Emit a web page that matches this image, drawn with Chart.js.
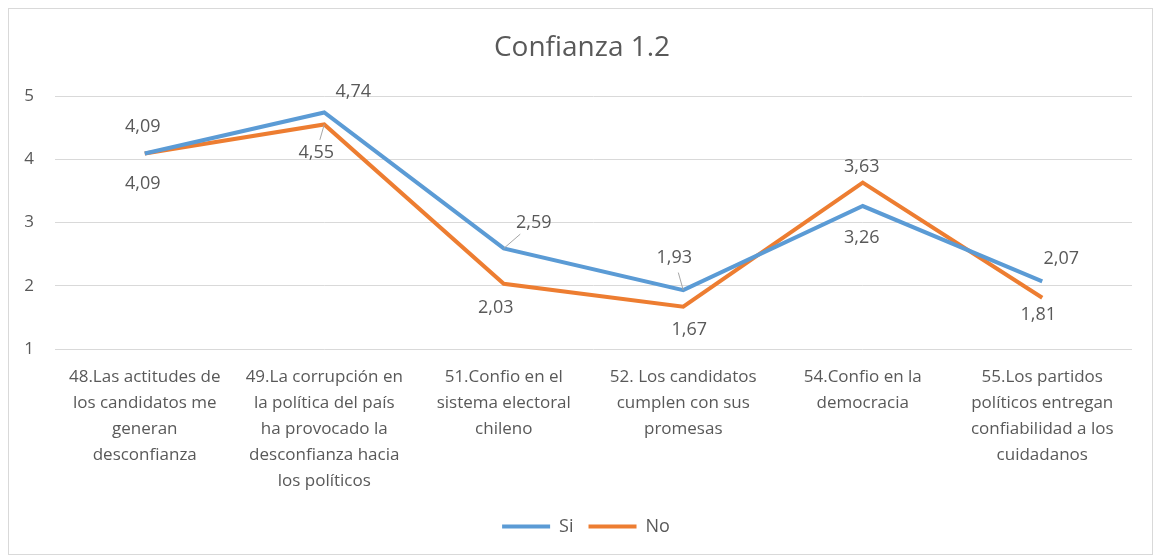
<!DOCTYPE html>
<html>
<head>
<meta charset="utf-8">
<script src="https://cdn.jsdelivr.net/npm/chart.js@4/dist/chart.umd.min.js"></script>
<style>
  body { margin: 0; background: #fff; }
  #wrap { width: 1156px; height: 558px; position: relative; }
</style>
</head>
<body>
<div id="wrap"><canvas id="chart"></canvas></div>
<script>
// --- Data ---
const categories = [
  ['48.Las actitudes de', 'los candidatos me', 'generan', 'desconfianza'],
  ['49.La corrupción en', 'la política del país', 'ha provocado la', 'desconfianza hacia', 'los políticos'],
  ['51.Confio en el', 'sistema electoral', 'chileno'],
  ['52. Los candidatos', 'cumplen con sus', 'promesas'],
  ['54.Confio en la', 'democracia'],
  ['55.Los partidos', 'políticos entregan', 'confiabilidad a los', 'cuidadanos']
];
const siValues = [4.09, 4.74, 2.59, 1.93, 3.26, 2.07];
const noValues = [4.09, 4.55, 2.03, 1.67, 3.63, 1.81];
const yTicks = [1, 2, 3, 4, 5];

// --- Label placement (pixel offsets from each point) ---
const siLabelOffsets = [[-2, -27], [29, -21], [30, -26], [-9, -32], [-1, 32], [19, -22]];
const noLabelOffsets = [[-2, 30], [-8, 28], [-8, 24], [6, 23], [-1, -16], [-4, 17]];
const leaderLines = [[0, 2], [0, 3], [1, 1]]; // [datasetIndex, pointIndex]

const textColor = '#595959';
const fontFamily = '"Open Sans", "Noto Sans", sans-serif';

// --- Plugin: outer border + title/legend nudge ---
const frame = {
  id: 'frame',
  afterLayout(chart) {
    // center title and legend over the plot like the original
    chart.legend.left = 40;
    chart.titleBlock.left = 32;
  },
  beforeDraw(chart) {
    const ctx = chart.ctx;
    ctx.save();
    ctx.fillStyle = '#fff';
    ctx.fillRect(0, 0, chart.width, chart.height);
    ctx.strokeStyle = '#d9d9d9';
    ctx.lineWidth = 1;
    ctx.strokeRect(8.5, 8.5, 1144, 546);
    ctx.restore();
  }
};

// --- Plugin: value labels with comma decimals ---
const valueLabels = {
  id: 'valueLabels',
  afterDatasetsDraw(chart) {
    const ctx = chart.ctx;
    const offsets = [siLabelOffsets, noLabelOffsets];
    ctx.save();
    ctx.font = '18px ' + fontFamily;
    ctx.fillStyle = textColor;
    ctx.textAlign = 'center';
    ctx.textBaseline = 'middle';
    chart.data.datasets.forEach((ds, di) => {
      const meta = chart.getDatasetMeta(di);
      meta.data.forEach((pt, i) => {
        const [dx, dy] = offsets[di][i];
        const lx = pt.x + dx, ly = pt.y + dy;
        if (leaderLines.some(l => l[0] === di && l[1] === i)) {
          ctx.strokeStyle = '#a6a6a6';
          ctx.lineWidth = 1;
          ctx.beginPath();
          ctx.moveTo(pt.x, pt.y);
          ctx.lineTo(pt.x + dx * 0.55, pt.y + dy * 0.55);
          ctx.stroke();
        }
        ctx.fillText(ds.data[i].toFixed(2).replace('.', ','), lx, ly);
      });
    });
    ctx.restore();
  }
};

new Chart(document.getElementById('chart'), {
  type: 'line',
  data: {
    labels: categories,
    datasets: [
      { label: 'Si', data: siValues, borderColor: '#5B9BD5', backgroundColor: '#5B9BD5',
        borderWidth: 4, pointRadius: 0, tension: 0 },
      { label: 'No', data: noValues, borderColor: '#ED7D31', backgroundColor: '#ED7D31',
        borderWidth: 4, pointRadius: 0, tension: 0 }
    ]
  },
  options: {
    responsive: true,
    maintainAspectRatio: false,
    animation: false,
    layout: { padding: { left: 0, right: 24, top: 0, bottom: 12.5 } },
    scales: {
      x: {
        offset: true,
        grid: { display: false, drawTicks: false },
        border: { display: false },
        ticks: {
          color: textColor, padding: 15.5, maxRotation: 0, autoSkip: false,
          font: { family: fontFamily, size: 17, lineHeight: 1.52 }
        },
        afterFit: s => { s.height = 153.5; }
      },
      y: {
        min: 1, max: 5,
        afterBuildTicks: s => { s.ticks = yTicks.map(v => ({ value: v })); },
        grid: { color: '#d9d9d9', drawTicks: false },
        border: { display: false },
        ticks: { color: textColor, padding: 21, font: { family: fontFamily, size: 17 } },
        afterFit: s => { s.width = 55; }
      }
    },
    plugins: {
      title: {
        display: true, text: 'Confianza 1.2', color: textColor,
        font: { family: fontFamily, size: 28, weight: 'normal' },
        padding: { top: 31, bottom: 31.4 }
      },
      legend: {
        position: 'bottom',
        labels: {
          usePointStyle: true, pointStyle: 'line', pointStyleWidth: 48,
          color: textColor, padding: 15,
          font: { family: fontFamily, size: 18 }
        }
      },
      tooltip: { enabled: false }
    }
  },
  plugins: [frame, valueLabels]
});
</script>
</body>
</html>
